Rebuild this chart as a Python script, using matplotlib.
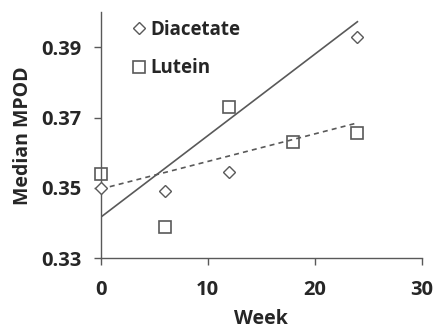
import matplotlib
matplotlib.use("Agg")
import matplotlib.pyplot as plt

# Datos
weeks_diacetate = [0, 6, 12, 24]
mpod_diacetate = [0.350, 0.349, 0.3545, 0.393]
weeks_lutein = [0, 6, 12, 18, 24]
mpod_lutein = [0.354, 0.339, 0.373, 0.363, 0.3655]

# Líneas de tendencia (extremos en semana 0 y 24)
fit_weeks = [0, 24]
fit_diacetate = [0.3417, 0.3973]
fit_lutein = [0.3497, 0.3685]

x_ticks = [0, 10, 20, 30]
y_ticks = [0.33, 0.35, 0.37, 0.39]

gray = "#595959"
text_col = "#262626"

plt.rcParams["font.family"] = ["Open Sans", "DejaVu Sans"]
plt.rcParams["font.weight"] = "bold"

fig = plt.figure(figsize=(4.35, 3.31), dpi=100)
ax = fig.add_axes([0.232, 0.22, 0.737, 0.743])

ax.plot(fit_weeks, fit_diacetate, color=gray, lw=1.2, ls="-")
ax.plot(fit_weeks, fit_lutein, color=gray, lw=1.2, ls=(0, (3, 2.5)))

ax.plot(weeks_diacetate, mpod_diacetate, ls="none", marker="D", ms=6.3,
        mfc="white", mec=gray, mew=1.0, label="Diacetate", clip_on=False, zorder=3)
ax.plot(weeks_lutein, mpod_lutein, ls="none", marker="s", ms=9.1,
        mfc="none", mec=gray, mew=1.2, label="Lutein", clip_on=False, zorder=3)

ax.set_xlim(0, 30)
ax.set_ylim(0.33, 0.40)
ax.set_xticks(x_ticks)
ax.set_yticks(y_ticks)
ax.set_yticklabels([f"{v:.2f}" for v in y_ticks])

for side in ("top", "right"):
    ax.spines[side].set_visible(False)
for side in ("left", "bottom"):
    ax.spines[side].set_color(gray)
    ax.spines[side].set_linewidth(1.0)

ax.tick_params(axis="both", colors=gray, length=5, width=1.0, direction="out",
               labelsize=14.5, labelcolor=text_col)
ax.tick_params(axis="y", pad=9)
ax.tick_params(axis="x", pad=11)

ax.set_xlabel("Week", fontsize=14, color=text_col, fontweight="bold", labelpad=6.5)
ax.set_ylabel("Median MPOD", fontsize=14, color=text_col, fontweight="bold", labelpad=6)

leg = ax.legend(loc="upper left", bbox_to_anchor=(0.078, 1.0), frameon=False,
                fontsize=13.5, handlelength=0.6, handletextpad=0.3,
                labelspacing=1.0, borderaxespad=0)
for t in leg.get_texts():
    t.set_color(text_col)
    t.set_fontweight("bold")

fig.savefig("out.png", dpi=100)
